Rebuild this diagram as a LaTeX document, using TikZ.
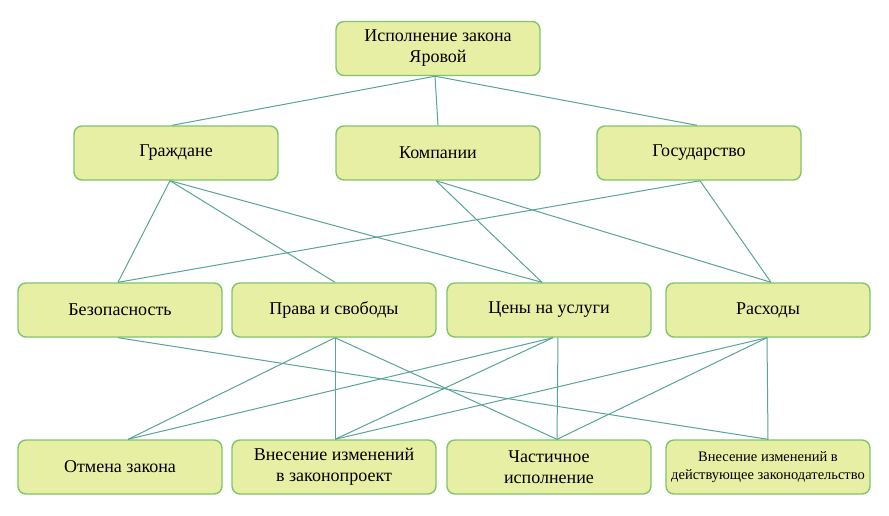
\documentclass[tikz,border=0pt]{standalone}
\usepackage{fontspec}
\setmainfont{Liberation Serif}
\definecolor{boxfill}{HTML}{E6EFA4}
\definecolor{boxline}{HTML}{80C46C}
\definecolor{conn}{HTML}{58A498}
\begin{document}
\begin{tikzpicture}[x=1pt,y=-1pt,
  box/.style={draw=boxline,fill=boxfill,line width=1.4pt,rounded corners=8pt,
    minimum width=204pt,minimum height=54pt,inner sep=2pt,align=center,
    font=\fontsize{18}{21}\selectfont},
  smallbox/.style={box,font=\fontsize{14.5}{18}\selectfont},
  link/.style={draw=conn,line width=1pt}]
\useasboundingbox (0,0) rectangle (889,515);
% nodes
\node[box] (top) at (438,48.5) {Исполнение закона\\Яровой};
\node[box] (g) at (176,153) {Граждане};
\node[box] (k) at (438,153) {Компании};
\node[box] (s) at (699,153) {Государство};
\node[box] (b) at (120,310) {Безопасность};
\node[box] (p) at (334,310) {Права и свободы};
\node[box] (c) at (549,310) {Цены на услуги};
\node[box] (r) at (768,310) {Расходы};
\node[box] (o) at (120,467) {Отмена закона};
\node[box] (v) at (334,467) {Внесение изменений\\в законопроект};
\node[box] (ch) at (549,467) {Частичное\\исполнение};
\node[smallbox] (d) at (768,467) {Внесение изменений в\\действующее законодательство};
% connection points
\coordinate (topS) at ([xshift=-3pt]top.south);
\coordinate (gN) at ([xshift=-4pt]g.north);
\coordinate (gS) at ([xshift=-6pt]g.south);
\coordinate (kN) at (k.north);
\coordinate (kS) at ([xshift=-2pt]k.south);
\coordinate (sN) at ([xshift=-2pt]s.north);
\coordinate (sS) at ([xshift=1pt]s.south);
\coordinate (bN) at ([xshift=-2pt]b.north);
\coordinate (bS) at ([xshift=-2pt]b.south);
\coordinate (pN) at ([xshift=1pt]p.north);
\coordinate (pS) at ([xshift=1pt]p.south);
\coordinate (cN) at ([xshift=-7pt]c.north);
\coordinate (cS) at ([xshift=4pt]c.south);
\coordinate (cS2) at ([xshift=9pt]c.south);
\coordinate (rN) at ([xshift=3pt]r.north);
\coordinate (rS) at ([xshift=-1pt]r.south);
\coordinate (oN) at ([xshift=8pt]o.north);
\coordinate (vN) at ([xshift=1pt]v.north);
\coordinate (chN) at ([xshift=8pt]ch.north);
\coordinate (dN) at (d.north);
% connectors
\draw[link] (topS) -- (gN);
\draw[link] (topS) -- (kN);
\draw[link] (topS) -- (sN);
\draw[link] (gS) -- (bN);
\draw[link] (gS) -- (pN);
\draw[link] (gS) -- (cN);
\draw[link] (kS) -- (cN);
\draw[link] (kS) -- (rN);
\draw[link] (sS) -- (bN);
\draw[link] (sS) -- (rN);
\draw[link] (bS) -- (dN);
\draw[link] (pS) -- (oN);
\draw[link] (pS) -- (vN);
\draw[link] (pS) -- (chN);
\draw[link] (cS) -- (oN);
\draw[link] (cS) -- (vN);
\draw[link] (cS2) -- (chN);
\draw[link] (rS) -- (vN);
\draw[link] (rS) -- (chN);
\draw[link] (rS) -- (dN);
\end{tikzpicture}
\end{document}
